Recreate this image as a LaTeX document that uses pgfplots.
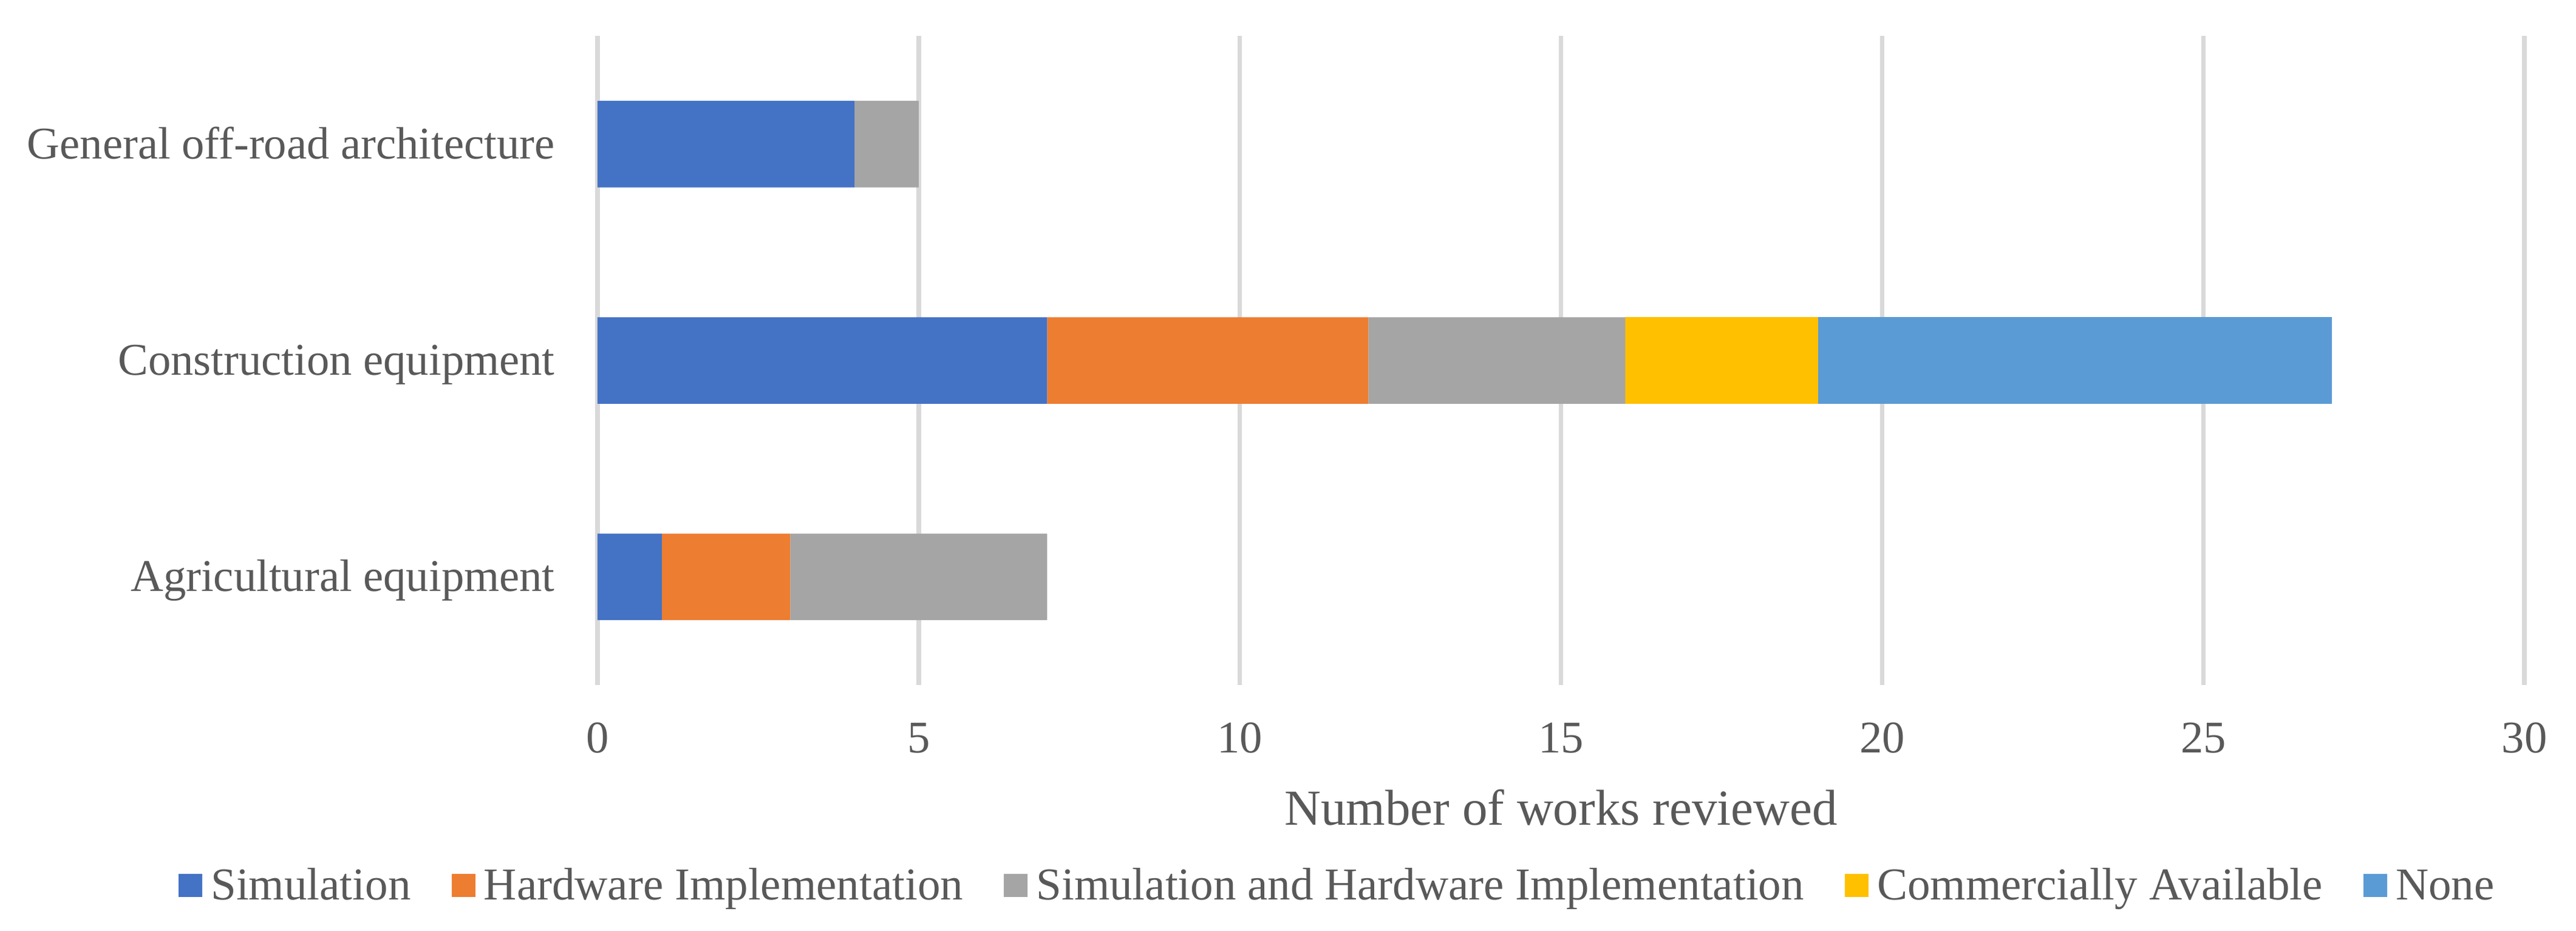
\documentclass[border=0pt]{standalone}
\usepackage{fontspec}
\setmainfont{Liberation Serif}
\usepackage{pgfplots}
\pgfplotsset{compat=1.18}

\definecolor{simblue}{HTML}{4472C4}
\definecolor{hworange}{HTML}{ED7D31}
\definecolor{bothgray}{HTML}{A5A5A5}
\definecolor{commgold}{HTML}{FFC000}
\definecolor{noneblue}{HTML}{5B9BD5}
\definecolor{gridgray}{HTML}{D9D9D9}
\definecolor{textgray}{HTML}{595959}

\begin{document}
\begin{tikzpicture}
\path[use as bounding box] (0,0) rectangle (565.6pt,204.27pt);
\begin{axis}[
    at={(131.2pt,53.87pt)}, anchor=south west,
    width=423.1pt, height=142.5pt, scale only axis,
    xbar stacked, bar width=0.4,
    xmin=0, xmax=30, ymin=-0.5, ymax=2.5,
    xtick={0,5,...,30}, ytick={0,1,2},
    yticklabels={Agricultural equipment, Construction equipment, General off-road architecture},
    axis line style={draw=none}, tick style={draw=none}, major tick length=0pt,
    xmajorgrids=true, ymajorgrids=false,
    grid style={color=gridgray, line width=1pt},
    /pgf/number format/assume math mode=true,
    tick label style={font=\fontsize{9.95}{12}\selectfont, text=textgray, inner sep=0pt},
    xticklabel style={anchor=base, yshift=-14.93pt},
    yticklabel style={anchor=base east, xshift=-9.2pt, yshift=-3.2pt},
    xlabel={Number of works reviewed},
    xlabel style={at={(axis description cs:0.5,0)}, anchor=base, yshift=-30.7pt,
        font=\fontsize{11.07}{13}\selectfont, text=textgray, inner sep=0pt},
    legend columns=-1,
    legend style={at={(axis description cs:-0.2174,-0.3112)}, anchor=west,
        draw=none, fill=none, inner sep=0pt, outer sep=0pt,
        font=\fontsize{10}{12}\selectfont, text=textgray,
        nodes={inner sep=0pt}, cells={anchor=base west},
        /tikz/every odd column/.append style={column sep=1.9pt},
        /tikz/every even column/.append style={column sep=8.95pt}},
    legend image code/.code={\fill[#1] (0pt,0.55pt) rectangle (5.2pt,5.6pt);},
]
% y: 0 = Agricultural, 1 = Construction, 2 = General off-road
\addplot[fill=simblue, draw=none] coordinates {(1,0) (7,1) (4,2)};
\addplot[fill=hworange, draw=none] coordinates {(2,0) (5,1) (0,2)};
\addplot[fill=bothgray, draw=none] coordinates {(4,0) (4,1) (1,2)};
\addplot[fill=commgold, draw=none] coordinates {(0,0) (3,1) (0,2)};
\addplot[fill=noneblue, draw=none] coordinates {(0,0) (8,1) (0,2)};
\legend{Simulation, Hardware Implementation, Simulation and Hardware Implementation, Commercially Available, None}
\end{axis}
\end{tikzpicture}
\end{document}
